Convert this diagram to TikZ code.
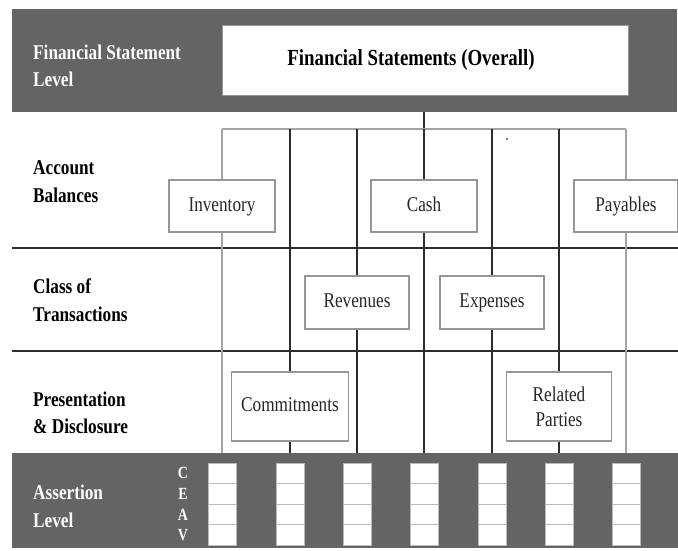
\documentclass[tikz,border=0pt]{standalone}
\usepackage{fontspec}
\setmainfont{Liberation Serif}[FakeStretch=0.82]
\definecolor{band}{RGB}{100,100,100}
\definecolor{boxline}{RGB}{150,150,150}
\definecolor{darkline}{RGB}{45,45,45}
\definecolor{lightline}{RGB}{165,165,165}
\definecolor{cellline}{RGB}{185,185,185}
\begin{document}
\begin{tikzpicture}[x=1pt,y=-1pt,
  rowlabel/.style={anchor=west, align=left, inner sep=0pt,
    font=\bfseries\fontsize{21}{27.5}\selectfont},
  bandlabel/.style={rowlabel, text=white},
  item/.style={draw=boxline, line width=1.3pt, fill=white, inner sep=0pt,
    align=center, text=black!85, font=\fontsize{21}{25}\selectfont},
  oneline/.style={text height=14pt, text depth=4pt},
  sepline/.style={draw=darkline, line width=1.8pt},
  darkwire/.style={draw=darkline, line width=1.4pt},
  lightwire/.style={draw=lightline, line width=1.4pt},
  cell/.style={draw=cellline, line width=1pt, fill=white, inner sep=0pt,
    minimum width=28pt, minimum height=20.6pt},
  cellletter/.style={text=white, inner sep=0pt,
    font=\bfseries\fontsize{17}{17}\selectfont}
]
\useasboundingbox (0,0) rectangle (678,550);

% shaded level bands and row separators
\fill[band] (12,9) rectangle (677,112);
\fill[band] (12,453) rectangle (678,548);
\path[sepline] (12,248) -- (678,248);
\path[sepline] (12,351) -- (678,351);

% row labels
\node[bandlabel] (lFS) at (33,66) {Financial Statement\\Level};
\node[rowlabel] (lAB) at (33,181.5) {Account\\Balances};
\node[rowlabel] (lCT) at (33,300) {Class of\\Transactions};
\node[rowlabel] (lPD) at (33,413) {Presentation\\\& Disclosure};
\node[bandlabel] (lAL) at (33,506.5) {Assertion\\Level};

% top box
\node[fill=white, draw=boxline, line width=0.4pt, minimum width=406pt,
  minimum height=70pt, inner sep=0pt,
  font=\bfseries\fontsize{23}{27}\selectfont] (fs) at (425,60)
  {Financial Statements (Overall)\hspace*{28pt}};

% distribution bus
\coordinate (bandfoot) at (424,112);
\coordinate (hub) at (424,129);
\foreach \i/\x in {1/222,2/290,3/357,4/424,5/492,6/559,7/626}{
  \coordinate (t\i) at (\x,129);
  \coordinate (b\i) at (\x,453);
}

% component boxes
\node[item, oneline, minimum width=106pt, minimum height=52pt] (inv) at (222,206) {Inventory};
\node[item, oneline, minimum width=106pt, minimum height=52pt] (cash) at (424,206) {Cash};
\node[item, oneline, minimum width=104pt, minimum height=52pt] (pay) at (626,206) {Payables};
\node[item, oneline, minimum width=104pt, minimum height=53pt] (rev) at (357,302.5) {Revenues};
\node[item, oneline, minimum width=104pt, minimum height=53pt] (exp) at (492,302.5) {Expenses};
\node[item, oneline, minimum width=117pt, minimum height=69pt] (com) at (290,406.5) {Commitments};
\node[item, minimum width=105pt, minimum height=69pt] (rel) at (559,406.5) {Related\\Parties};

% connectors
\path[darkwire] (bandfoot) -- (hub);
\path[lightwire] (t1) -- (t7);
\path[lightwire] (t1) -- (inv) -- (b1);
\path[darkwire] (t2) -- (com) -- (b2);
\path[darkwire] (t3) -- (rev) -- (b3);
\path[darkwire] (hub) -- (cash) -- (b4);
\path[darkwire] (t5) -- (exp) -- (b5);
\path[darkwire] (t6) -- (rel) -- (b6);
\path[lightwire] (t7) -- (pay) -- (b7);

\fill[black] (507,139) circle (0.9pt);

% assertion cells
\foreach \L [count=\j] in {C,E,A,V}{
  \node[cellletter] (let\j) at (183,452.7+\j*20.6) {\L};
  \foreach \i/\x in {1/222,2/290,3/357,4/424,5/492,6/559,7/626}{
    \node[cell] (c\i\j) at (\x,452.7+\j*20.6) {};
  }
}
\end{tikzpicture}
\end{document}
